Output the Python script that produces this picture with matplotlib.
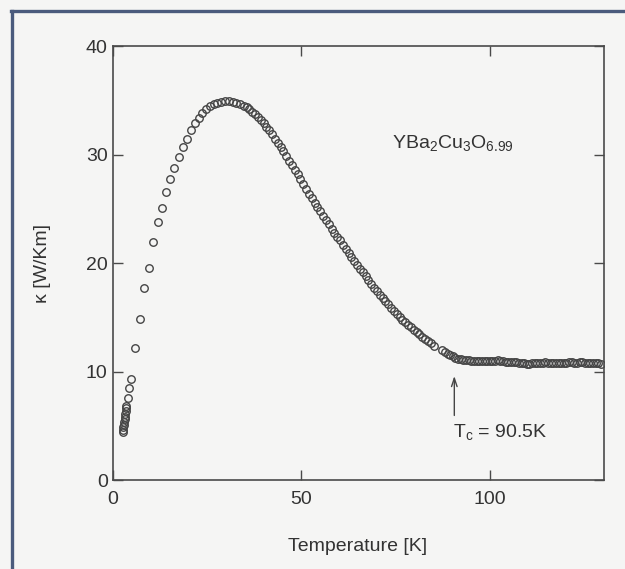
import matplotlib
matplotlib.use("Agg")
import matplotlib.pyplot as plt
from matplotlib.lines import Line2D

plt.rcParams["font.family"] = ["Liberation Sans", "DejaVu Sans"]
plt.rcParams["mathtext.fontset"] = "custom"
plt.rcParams["mathtext.rm"] = "Liberation Sans"
plt.rcParams["mathtext.it"] = "Liberation Sans"

INK = "#333333"
FRAME = "#4b5b7d"
BG = "#f5f5f4"

# low-T rise (K, W/Km)
temp_low = [2.7, 2.8, 2.9, 3.0, 3.1, 3.2, 3.3, 3.4, 3.5, 3.6, 3.7,
            4.1, 4.5, 4.9, 6.0, 7.2, 8.4, 9.6, 10.8, 12.0, 13.1, 14.2, 15.3,
            16.4, 17.5, 18.6, 19.7, 20.8, 21.8, 22.8, 23.8, 24.8, 25.8, 26.8,
            27.8, 28.8, 29.8, 30.8, 31.8, 32.8, 33.8, 34.7]
kappa_low = [4.4, 4.6, 4.85, 5.1, 5.35, 5.6, 5.85, 6.1, 6.35, 6.6, 6.85,
             7.6, 8.5, 9.3, 12.2, 14.9, 17.7, 19.6, 22.0, 23.8, 25.1, 26.6, 27.8,
             28.8, 29.8, 30.7, 31.5, 32.3, 32.9, 33.4, 33.9, 34.25, 34.5, 34.7,
             34.8, 34.9, 34.95, 34.95, 34.9, 34.8, 34.65, 34.5]

# falling side down to just below Tc
temp_mid = [35.5, 36.25, 37.0, 37.75, 38.5, 39.25, 40.0, 40.75, 41.5, 42.25,
            43.0, 43.75, 44.5, 45.25, 46.0, 46.75, 47.5, 48.25, 49.0, 49.75,
            50.5, 51.25, 52.0, 52.75, 53.5, 54.25, 55.0, 55.75, 56.5, 57.25,
            58.0, 58.75, 59.5, 60.25, 61.0, 61.75, 62.5, 63.25, 64.0, 64.75,
            65.5, 66.25, 67.0, 67.75, 68.5, 69.25, 70.0, 70.75, 71.5, 72.25,
            73.0, 73.75, 74.5, 75.25, 76.0, 76.75, 77.5, 78.25, 79.0, 79.75,
            80.5, 81.25, 82.0, 82.75, 83.5, 84.25, 85.0,
            87.3, 88.0, 88.7, 89.4, 90.1, 90.8, 91.5, 92.2, 92.9]
kappa_mid = [34.4, 34.25, 34.0, 33.8, 33.5, 33.2, 32.9, 32.6, 32.25, 31.9,
             31.5, 31.1, 30.75, 30.35, 29.9, 29.45, 29.05, 28.6, 28.2, 27.75,
             27.3, 26.85, 26.4, 26.0, 25.6, 25.15, 24.8, 24.4, 24.0, 23.6,
             23.2, 22.8, 22.45, 22.1, 21.7, 21.35, 20.95, 20.6, 20.2, 19.85,
             19.5, 19.15, 18.8, 18.45, 18.1, 17.75, 17.4, 17.1, 16.8, 16.5,
             16.2, 15.9, 15.6, 15.3, 15.0, 14.75, 14.55, 14.3, 14.1, 13.85,
             13.65, 13.45, 13.2, 13.0, 12.8, 12.6, 12.4,
             12.0, 11.8, 11.65, 11.5, 11.4, 11.3, 11.2, 11.15, 11.1]

# normal-state plateau
temp_high = [93.6, 94.3, 95.0, 95.7, 96.4, 97.1, 97.8, 98.5, 99.2, 99.9,
             100.6, 101.3, 102.0, 102.7, 103.4, 104.1, 104.8, 105.5, 106.2, 106.9,
             107.6, 108.3, 109.0, 109.7, 110.4, 111.1, 111.8, 112.5, 113.2, 113.9,
             114.6, 115.3, 116.0, 116.7, 117.4, 118.1, 118.8, 119.5, 120.2, 120.9,
             121.6, 122.3, 123.0, 123.7, 124.4, 125.1, 125.8, 126.5, 127.2, 127.9,
             128.6, 129.3]
kappa_high = [11.05, 11.05, 11.0, 11.0, 11.0, 11.0, 10.95, 10.95, 10.95, 10.95,
              10.95, 11.0, 11.05, 11.0, 10.95, 10.9, 10.9, 10.85, 10.85, 10.85,
              10.8, 10.8, 10.75, 10.7, 10.7, 10.75, 10.75, 10.75, 10.8, 10.8,
              10.85, 10.8, 10.75, 10.75, 10.75, 10.8, 10.75, 10.75, 10.8, 10.85,
              10.85, 10.8, 10.8, 10.85, 10.85, 10.8, 10.8, 10.75, 10.75, 10.75,
              10.75, 10.7]

x_ticks = [0, 50, 100]
y_ticks = [0, 10, 20, 30, 40]
TC = 90.5

fig = plt.figure(figsize=(6.25, 5.69), dpi=100, facecolor=BG)
ax = fig.add_axes([0.18, 0.1564, 0.7856, 0.7619], facecolor=BG)

temps = temp_low + temp_mid + temp_high
kappas = kappa_low + kappa_mid + kappa_high
ax.plot(temps, kappas, ls="none", marker="o", ms=5.4, mfc="none",
        mec="#454545", mew=1.0)

ax.set_xlim(0, 130)
ax.set_ylim(0, 40)
ax.set_xticks(x_ticks)
ax.set_yticks(y_ticks)
for s in ax.spines.values():
    s.set_color("#4a4a4a")
    s.set_linewidth(1.2)
ax.tick_params(direction="in", length=7, width=1.0, color="#4a4a4a",
               top=True, right=True, labelsize=14, labelcolor=INK)
ax.tick_params(axis="x", pad=8)
ax.tick_params(axis="y", pad=3.5)

ax.set_xlabel("Temperature [K]", fontsize=14, color=INK)
ax.xaxis.set_label_coords(0.5, -0.134)
ax.set_ylabel("κ [W/Km]", fontsize=14, color=INK)
ax.yaxis.set_label_coords(-0.125, 0.5)

ax.text(74.0, 31.1, r"YBa$_2$Cu$_3$O$_{6.99}$", fontsize=14, color=INK,
        ha="left", va="center")
ax.annotate("", xy=(TC, 9.85), xytext=(TC, 5.7),
            arrowprops=dict(arrowstyle="->,head_length=0.6,head_width=0.2",
                            color="#454545", lw=1.0))
ax.text(90.2, 4.45, r"T$_\mathrm{c}$ = 90.5K", fontsize=14, color=INK,
        ha="left", va="center")

# scanned page frame
fig.add_artist(Line2D([11 / 625, 1.0], [1 - 11 / 569, 1 - 11 / 569],
                      color=FRAME, lw=2.4, transform=fig.transFigure))
fig.add_artist(Line2D([12 / 625, 12 / 625], [0.0, 1 - 11 / 569],
                      color=FRAME, lw=2.4, transform=fig.transFigure))

fig.savefig("out.png", dpi=100, facecolor=BG)
